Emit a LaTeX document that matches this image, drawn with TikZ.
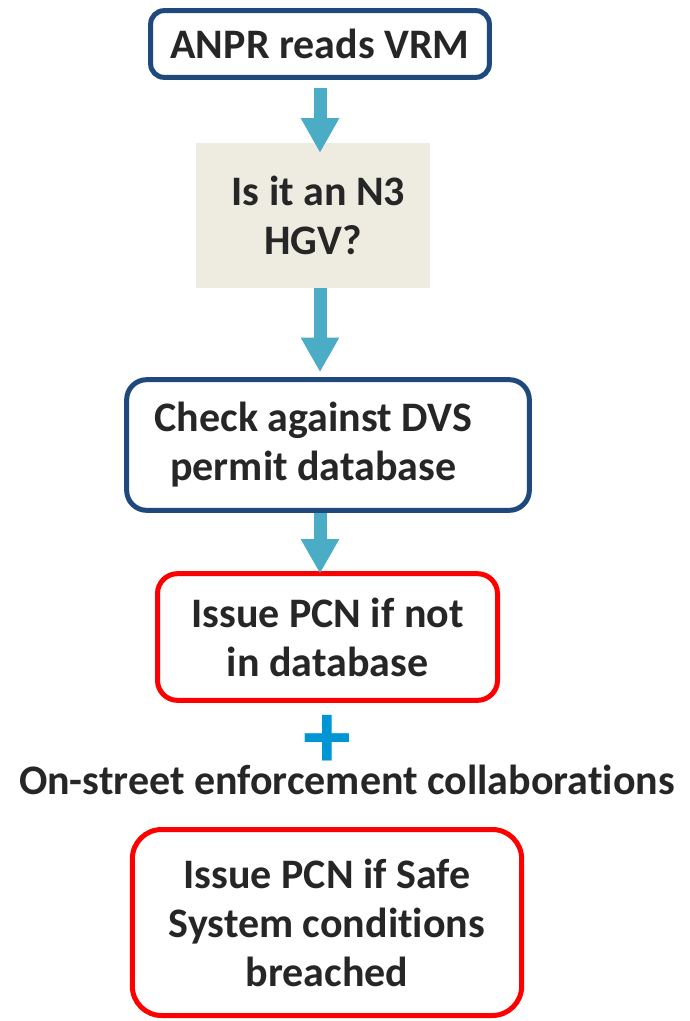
\documentclass[tikz,border=0pt]{standalone}
\usepackage{fontspec}
\setmainfont{Carlito}[Ligatures=CommonOff]
\usetikzlibrary{positioning,arrows.meta}
\definecolor{boxblue}{RGB}{31,73,125}
\definecolor{flowteal}{RGB}{75,172,198}
\definecolor{askfill}{RGB}{238,236,225}
\definecolor{plusblue}{RGB}{0,150,214}
\definecolor{inkgray}{RGB}{38,38,38}

\begin{document}
\begin{tikzpicture}[x=0.75pt, y=-0.75pt,
    every node/.style={font=\bfseries\fontsize{31.5}{36.75}\selectfont, text=inkgray, align=center, inner sep=0pt, outer sep=0pt},
    bluebox/.style={draw=boxblue, line width=3.75pt, fill=white},
    redbox/.style={draw=red, line width=3.75pt, fill=white},
    askbox/.style={fill=askfill},
    flow/.style={draw=flowteal, line width=9.75pt, -{Triangle[width=27pt, length=26pt]}}]
    \useasboundingbox (0,0) rectangle (689,1021);

    % Camera check chain
    \node[bluebox, rounded corners=10pt, minimum width=254pt, minimum height=50pt] (anpr) at (320,44) {ANPR reads VRM};
    \node[askbox, minimum width=175.5pt, minimum height=109pt] (hgv) at (313,215.5) {\hspace*{8pt}Is it an N3\\HGV?};
    \node[bluebox, rounded corners=15pt, minimum width=302pt, minimum height=98pt] (check) at (328,445) {Check against DVS\hspace*{22pt}\\permit database\hspace*{22pt}};
    \node[redbox, rounded corners=15pt, minimum width=255pt, minimum height=95pt] (pcnA) at (327.5,637) {Issue PCN if not\\in database};

    \coordinate (spine) at (320,0);
    \draw[flow] ([yshift=-7.9pt]anpr.south) -- ([yshift=-7.5pt]spine |- hgv.north);
    \draw[flow] (spine |- hgv.south) -- ([yshift=5.6pt]spine |- check.north);
    \draw[flow] ([yshift=-1.9pt]spine |- check.south) -- (spine |- pcnA.north);

    % Street enforcement
    \node[text=plusblue, font=\bfseries\fontsize{72}{72}\selectfont, inner ysep=-6pt] (plus) at (327,742) {+};
    \node[anchor=base] (street) at (347,794) {On-street enforcement collaborations};
    \node[redbox, rounded corners=22pt, minimum width=292pt, minimum height=139.5pt] (pcnB) at (327,922.5) {Issue PCN if Safe\\System conditions\\breached};
\end{tikzpicture}
\end{document}
